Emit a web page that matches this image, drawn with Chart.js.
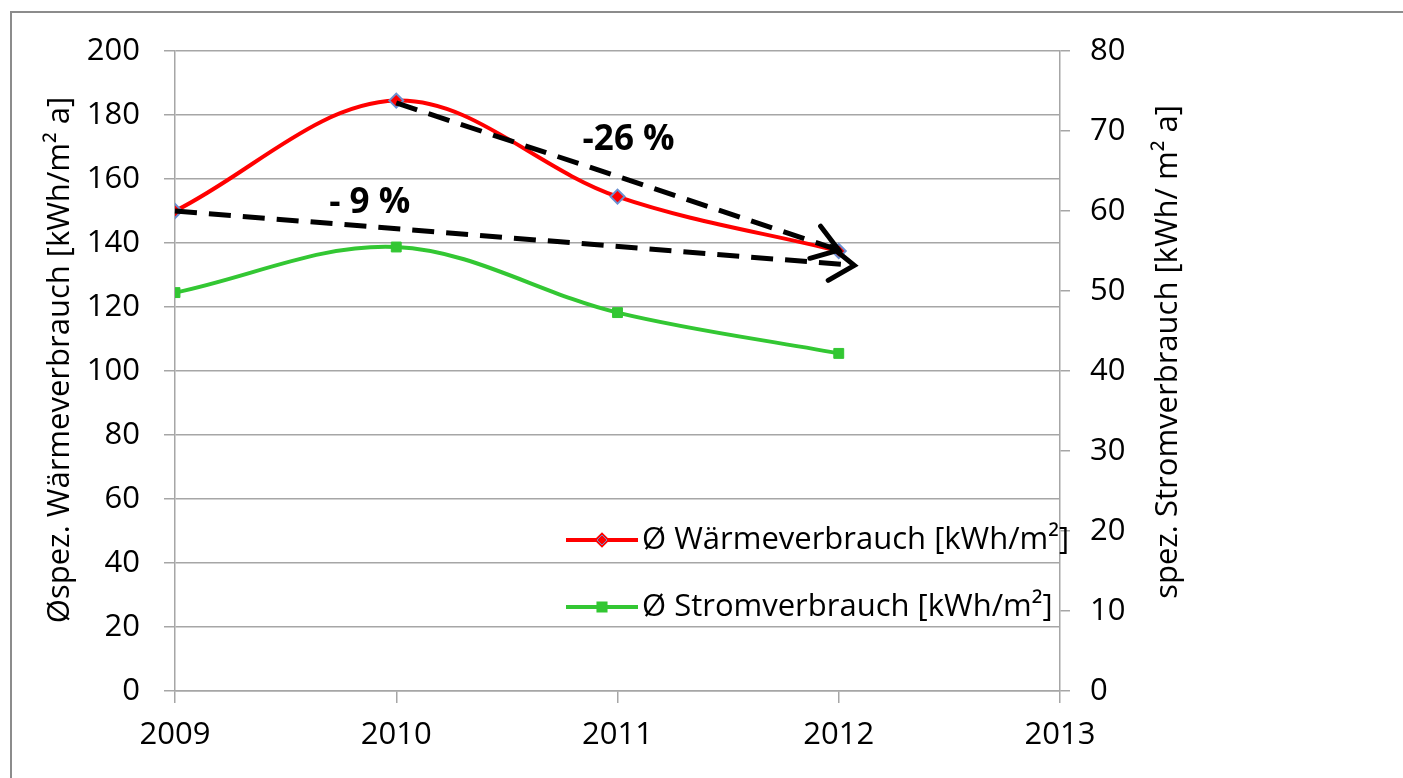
<!DOCTYPE html>
<html>
<head>
<meta charset="utf-8">
<script src="https://cdn.jsdelivr.net/npm/chart.js@4"></script>
<style>
    html, body { margin: 0; padding: 0; background: #fff; overflow: hidden; }
    #frame {
        position: absolute; left: 10px; top: 11px; width: 1500px; height: 900px;
        border-left: 2px solid #8c8c8c; border-top: 2px solid #8c8c8c;
    }
    canvas { position: absolute; left: 0; top: 0; }
</style>
</head>
<body>
<div id="frame"></div>
<canvas id="energyChart" width="1403" height="778"></canvas>
<script>
// Jahre und Verbrauchswerte
const years = [2009, 2010, 2011, 2012];
const heatValues = [150, 184.5, 154.5, 137.5];   // linke Achse
const powerValues = [49.8, 55.5, 47.3, 42.2];    // rechte Achse
const heatLabel = "Ø Wärmeverbrauch [kWh/m²]";
const powerLabel = "Ø Stromverbrauch [kWh/m²]";
const leftTitle = "Øspez. Wärmeverbrauch [kWh/m² a]";
const rightTitle = "spez. Stromverbrauch [kWh/ m² a]";

// Trendpfeile: Start- und Endpunkt in Datenwerten (linke Achse)
const arrowNine = { text: "- 9 %", from: [2009, 150], to: [2012.07, 133], label: [2009.88, 152.5] };
const arrowTwentySix = { text: "-26 %", from: [2010, 183.8], to: [2012.0, 137.8], label: [2011.05, 172.2] };

const FONT = "'Open Sans', sans-serif";
const GRID = "#a6a6a6";

function toPoints(values) {
    return years.map((y, i) => ({ x: y, y: values[i] }));
}

const overlayPlugin = {
    id: "overlay",
    afterDatasetsDraw(chart) {
        const ctx = chart.ctx;
        const xs = chart.scales.x;
        const ys = chart.scales.y;

        // gestrichelte Pfeile
        [arrowNine, arrowTwentySix].forEach(a => {
            const x1 = xs.getPixelForValue(a.from[0]);
            const y1 = ys.getPixelForValue(a.from[1]);
            const x2 = xs.getPixelForValue(a.to[0]);
            const y2 = ys.getPixelForValue(a.to[1]);
            const ang = Math.atan2(y2 - y1, x2 - x1);
            ctx.save();
            ctx.strokeStyle = "#000";
            ctx.lineWidth = 5;
            ctx.setLineDash([22, 12]);
            ctx.beginPath();
            ctx.moveTo(x1, y1);
            ctx.lineTo(x2 - 4 * Math.cos(ang), y2 - 4 * Math.sin(ang));
            ctx.stroke();
            ctx.setLineDash([]);
            ctx.lineWidth = 5;
            ctx.lineCap = "round";
            ctx.lineJoin = "miter";
            ctx.beginPath();
            ctx.moveTo(x2 - 30 * Math.cos(ang - 0.6), y2 - 30 * Math.sin(ang - 0.6));
            ctx.lineTo(x2, y2);
            ctx.lineTo(x2 - 30 * Math.cos(ang + 0.6), y2 - 30 * Math.sin(ang + 0.6));
            ctx.stroke();
            ctx.restore();

            ctx.save();
            ctx.font = "bold 35px " + FONT;
            ctx.fillStyle = "#000";
            ctx.textAlign = "center";
            ctx.textBaseline = "middle";
            ctx.fillText(a.text, xs.getPixelForValue(a.label[0]), ys.getPixelForValue(a.label[1]));
            ctx.restore();
        });

        // Legende im Diagramm (linksbündig)
        const items = [
            { label: heatLabel, ds: chart.data.datasets[0], y: 540 },
            { label: powerLabel, ds: chart.data.datasets[1], y: 607 }
        ];
        ctx.save();
        ctx.font = "31px " + FONT;
        const tx = 642;
        items.forEach(it => {
            ctx.fillStyle = "#000";
            ctx.textAlign = "left";
            ctx.textBaseline = "middle";
            ctx.fillText(it.label, tx, it.y);
            ctx.strokeStyle = it.ds.borderColor;
            ctx.lineWidth = 4;
            ctx.beginPath();
            ctx.moveTo(tx - 76, it.y);
            ctx.lineTo(tx - 4, it.y);
            ctx.stroke();
            Chart.helpers.drawPoint(ctx, {
                pointStyle: it.ds.pointStyle,
                radius: 5,
                borderWidth: 1,
                rotation: 0
            }, tx - 40, it.y);
            ctx.fillStyle = it.ds.pointBackgroundColor;
            ctx.strokeStyle = it.ds.pointBorderColor;
            ctx.lineWidth = 1;
            ctx.fill();
            ctx.stroke();
        });
        ctx.restore();

        // Achsentitel
        ctx.save();
        ctx.font = "31px " + FONT;
        ctx.fillStyle = "#000";
        ctx.textAlign = "center";
        ctx.textBaseline = "middle";
        ctx.translate(60, 360);
        ctx.rotate(-Math.PI / 2);
        ctx.fillText(leftTitle, 0, 0);
        ctx.restore();

        ctx.save();
        ctx.font = "31px " + FONT;
        ctx.fillStyle = "#000";
        ctx.textAlign = "center";
        ctx.textBaseline = "middle";
        ctx.translate(1168, 352);
        ctx.rotate(-Math.PI / 2);
        ctx.fillText(rightTitle, 0, 0);
        ctx.restore();
    }
};

const ctx = document.getElementById("energyChart").getContext("2d");

new Chart(ctx, {
    type: "line",
    data: {
        datasets: [{
            label: heatLabel,
            data: toPoints(heatValues),
            yAxisID: "y",
            borderColor: "#ff0000",
            borderWidth: 4,
            tension: 0.35,
            pointStyle: "rectRot",
            pointRadius: 7,
            pointBackgroundColor: "#ff0000",
            pointBorderColor: "#6a8fd0",
            pointBorderWidth: 2,
            fill: false
        }, {
            label: powerLabel,
            data: toPoints(powerValues),
            yAxisID: "y2",
            borderColor: "#33c733",
            borderWidth: 4,
            tension: 0.35,
            pointStyle: "rect",
            pointRadius: 7,
            pointBackgroundColor: "#33c733",
            pointBorderColor: "#33c733",
            pointBorderWidth: 1,
            fill: false
        }]
    },
    options: {
        responsive: false,
        animation: false,
        layout: { padding: { top: 51, left: 0, right: 0, bottom: 0 } },
        plugins: {
            legend: { display: false },
            tooltip: { enabled: false }
        },
        scales: {
            x: {
                type: "linear",
                min: 2009,
                max: 2013,
                ticks: {
                    stepSize: 1,
                    color: "#000",
                    font: { family: FONT, size: 31 },
                    padding: 14,
                    callback: v => String(v)
                },
                grid: { drawOnChartArea: false, color: GRID, lineWidth: 1.5, tickLength: 12 },
                border: { color: GRID, width: 1.5 },
                afterFit: s => { s.height = 87; }
            },
            y: {
                position: "left",
                min: 0,
                max: 200,
                ticks: {
                    stepSize: 20,
                    color: "#000",
                    font: { family: FONT, size: 31 },
                    padding: 24
                },
                grid: { color: GRID, lineWidth: 1.5, tickLength: 11 },
                border: { color: GRID, width: 1.5 },
                afterFit: s => { s.width = 175; }
            },
            y2: {
                position: "right",
                min: 0,
                max: 80,
                ticks: {
                    stepSize: 10,
                    color: "#000",
                    font: { family: FONT, size: 31 },
                    padding: 20
                },
                grid: { drawOnChartArea: false, color: GRID, lineWidth: 1.5, tickLength: 10 },
                border: { color: GRID, width: 1.5 },
                afterFit: s => { s.width = 343; }
            }
        }
    },
    plugins: [overlayPlugin]
});
</script>
</body>
</html>
